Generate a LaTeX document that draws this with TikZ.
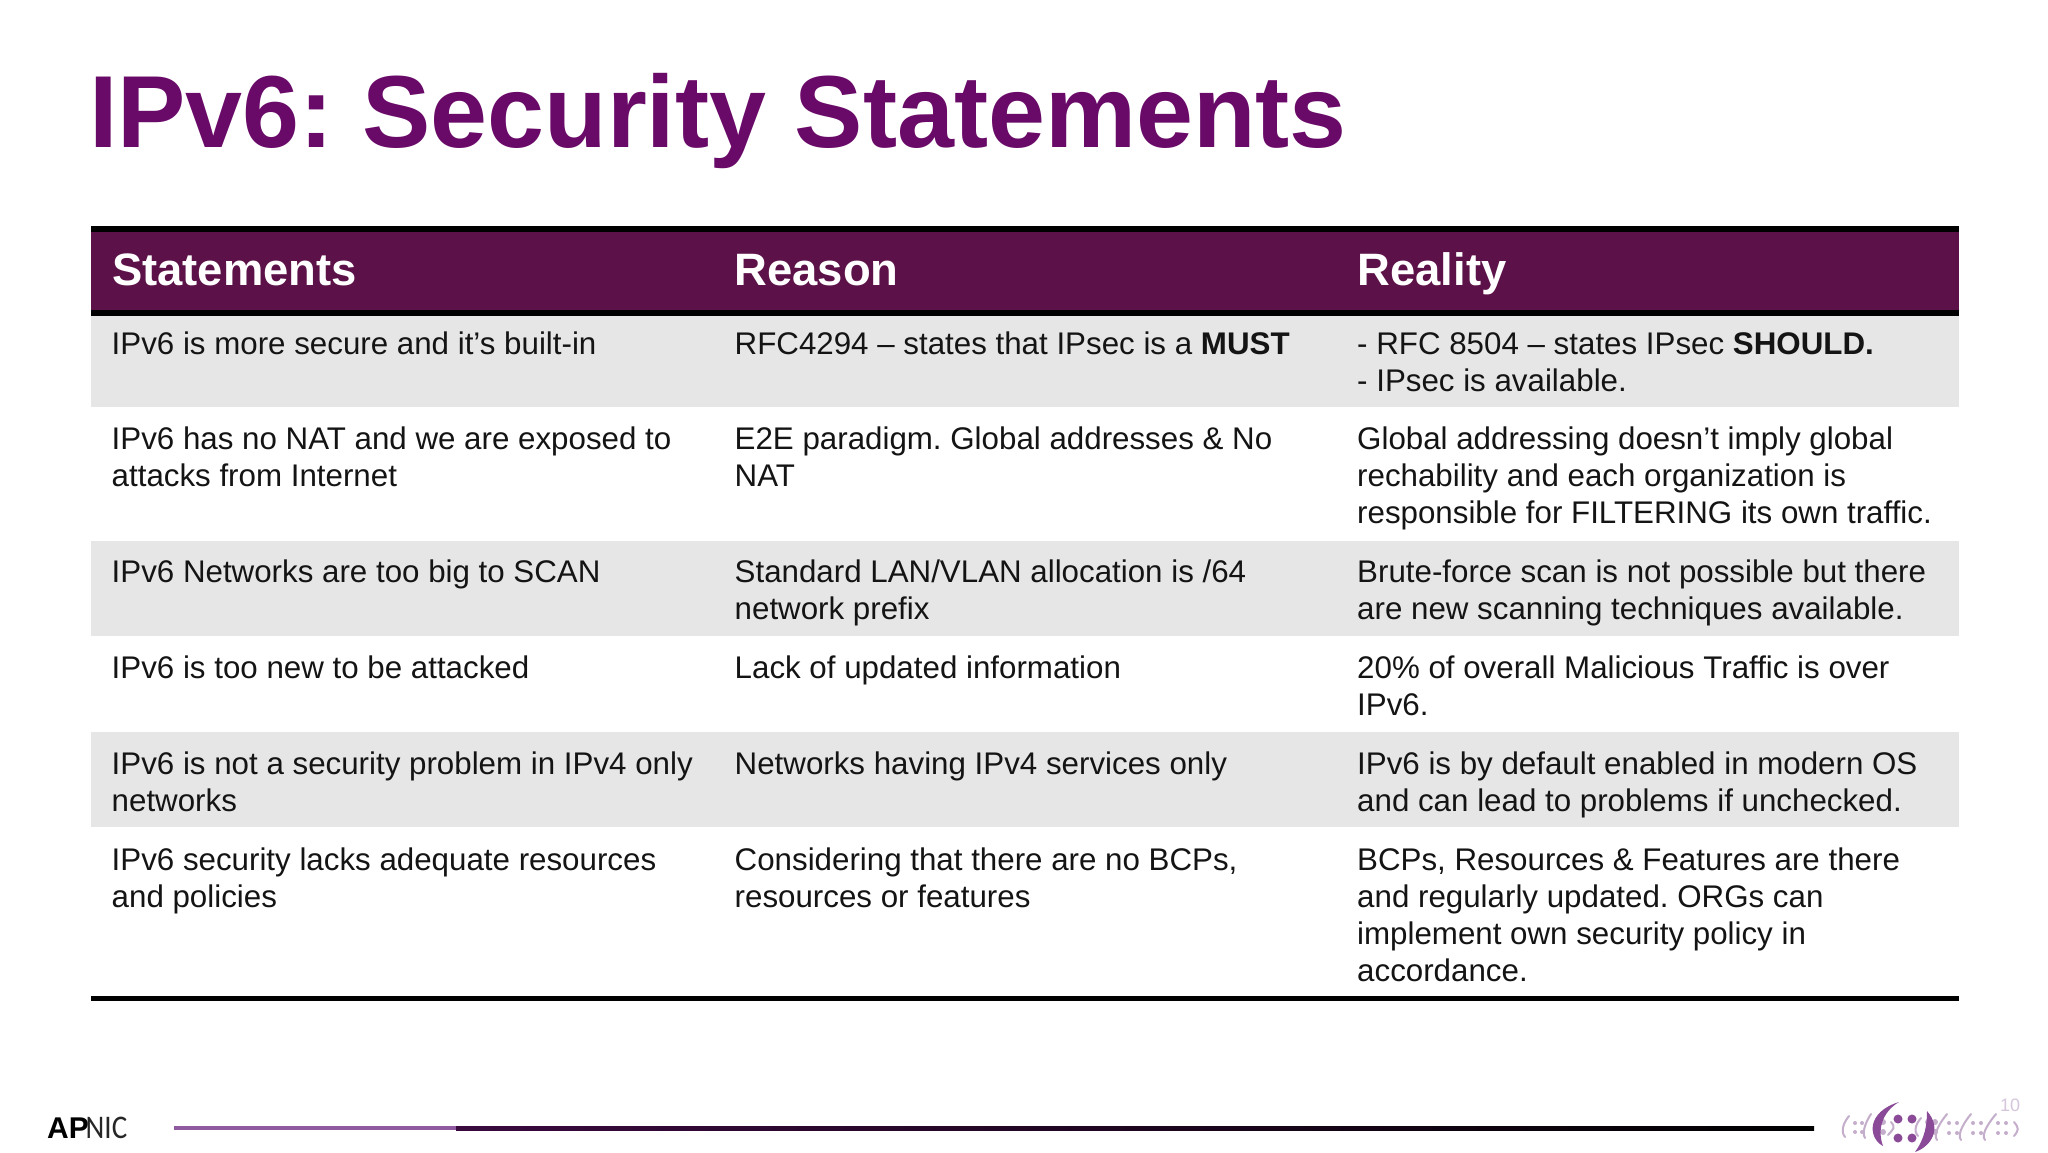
\documentclass[tikz,border=0pt]{standalone}
\usepackage{fontspec}
\setmainfont{Liberation Sans}
\newfontfamily\nicfont[FakeStretch=0.88]{Carlito}
\definecolor{titlepurple}{HTML}{6A0A68}
\definecolor{headpurple}{HTML}{5C1148}
\definecolor{rowgrey}{HTML}{E6E6E6}
\definecolor{logopurple}{HTML}{8A4A98}
\definecolor{logolight}{HTML}{C4AECB}
\definecolor{footlight}{HTML}{8F5A9F}
\definecolor{footdark}{HTML}{3A0A3E}
\tikzset{
  cell/.style={anchor=north west,inner sep=0pt,align=left,text=black!92,font=\frenchspacing\fontsize{31.3}{37}\selectfont},
  headcell/.style={anchor=base west,inner sep=0pt,text=white,font=\fontsize{45.4}{50}\selectfont\bfseries},
  slash/.style={logolight,line width=2pt,line cap=round},
}
\newcommand{\st}{\strut}
\begin{document}
\frenchspacing
\begin{tikzpicture}[x=1pt,y=-1pt]
\useasboundingbox (0,0) rectangle (2048,1152);
\fill[white] (0,0) rectangle (2048,1152);
\node[anchor=base west,inner sep=0pt,text=titlepurple,font=\frenchspacing\fontsize{102.4}{110}\selectfont\bfseries] (title) at (89,147) {IPv6: Security Statements};
% table
\fill[headpurple] (91,229) rectangle (1959,313);
\fill[rowgrey] (91,316) rectangle (1959,407);
\fill[rowgrey] (91,541) rectangle (1959,636);
\fill[rowgrey] (91,732) rectangle (1959,827);
\fill[black] (91,226) rectangle (1959,232);
\fill[black] (91,310) rectangle (1959,316);
\fill[black] (91,996) rectangle (1959,1001);
\node[headcell] (h1) at (112,285) {Statements};
\node[headcell] (h2) at (734.5,285) {Reason};
\node[headcell] (h3) at (1357.5,285) {Reality};
% rows
\node[cell] (a1) at (111.5,328.5) {\st IPv6 is more secure and it’s built-in};
\node[cell] (b1) at (734.5,328.5) {\st RFC4294 – states that IPsec is a \textbf{MUST}};
\node[cell] (c1) at (1357,328.5) {\st - RFC 8504 – states IPsec \textbf{SHOULD.}\\\st - IPsec is available.};
\node[cell] (a2) at (111.5,423.5) {\st IPv6 has no NAT and we are exposed to\\\st attacks from Internet};
\node[cell] (b2) at (734.5,423.5) {\st E2E paradigm. Global addresses \& No\\\st NAT};
\node[cell] (c2) at (1357,423.5) {\st Global addressing doesn’t imply global\\\st rechability and each organization is\\\st responsible for FILTERING its own traffic.};
\node[cell] (a3) at (111.5,556.5) {\st IPv6 Networks are too big to SCAN};
\node[cell] (b3) at (734.5,556.5) {\st Standard LAN/VLAN allocation is /64\\\st network prefix};
\node[cell] (c3) at (1357,556.5) {\st Brute-force scan is not possible but there\\\st are new scanning techniques available.};
\node[cell] (a4) at (111.5,652.5) {\st IPv6 is too new to be attacked};
\node[cell] (b4) at (734.5,652.5) {\st Lack of updated information};
\node[cell] (c4) at (1357,652.5) {\st 20\% of overall Malicious Traffic is over\\\st IPv6.};
\node[cell] (a5) at (111.5,748) {\st IPv6 is not a security problem in IPv4 only\\\st networks};
\node[cell] (b5) at (734.5,748) {\st Networks having IPv4 services only};
\node[cell] (c5) at (1357,748) {\st IPv6 is by default enabled in modern OS\\\st and can lead to problems if unchecked.};
\node[cell] (a6) at (111.5,844) {\st IPv6 security lacks adequate resources\\\st and policies};
\node[cell] (b6) at (734.5,844) {\st Considering that there are no BCPs,\\\st resources or features};
\node[cell] (c6) at (1357,844) {\st BCPs, Resources \& Features are there\\\st and regularly updated. ORGs can\\\st implement own security policy in\\\st accordance.};
% footer
\node[anchor=base west,inner sep=0pt,text=black,font=\fontsize{30}{30}\selectfont\bfseries] (ap) at (47,1138) {AP};
\node[anchor=base west,inner sep=0pt,text=black!85,font=\fontsize{33}{34}\selectfont\nicfont] (nic) at (85.5,1138) {NIC};
\fill[footlight] (174,1126) rectangle (456,1130);
\fill[left color=footdark,right color=black] (456,1126.5) rectangle (1814,1130);
% logo
\node[anchor=base,inner sep=0pt,text=logolight!70,font=\fontsize{18}{20}\selectfont] (pg) at (2010,1111) {10};
\foreach \xa/\ya/\xb/\yb/\b in {1849/1116/1845/1137/-5,1871/1114/1865/1138/-4,1891/1122/1888/1135/5,1921/1118/1918/1136/-5,1947/1114/1937/1140/-5,1971/1114/1961/1140/-5,1996/1114/1985/1140/-5,2014/1122/2014/1136/5}
  \draw[slash] (\xa,\ya) .. controls (\xa+\b,\ya+6) and (\xb+\b,\yb-6) .. (\xb,\yb);
\foreach \x/\y in {1855/1123,1862/1123,1855/1132,1862/1132,1949/1123,1957/1123,1949/1133,1957/1133,1973/1123,1981/1123,1973/1133,1981/1133,1998/1123,2006/1123,1998/1133,2006/1133}
  \fill[logolight] (\x,\y) circle (2);
\foreach \x/\y in {1883/1122,1883/1132,1928/1122,1935/1122,1928/1132,1935/1132}
  \fill[logolight] (\x,\y) circle (3);
\fill[logopurple] (1899,1102) .. controls (1866,1112) and (1868,1138) .. (1883,1146) .. controls (1877,1130) and (1882,1112) .. cycle;
\fill[logopurple] (1927,1111) .. controls (1942,1128) and (1932,1146) .. (1915,1152) .. controls (1925,1138) and (1927,1125) .. cycle;
\foreach \x/\y in {1898/1119,1912/1119,1898/1138,1912/1138}
  \fill[logopurple] (\x,\y) circle (4.5);
\end{tikzpicture}
\end{document}
